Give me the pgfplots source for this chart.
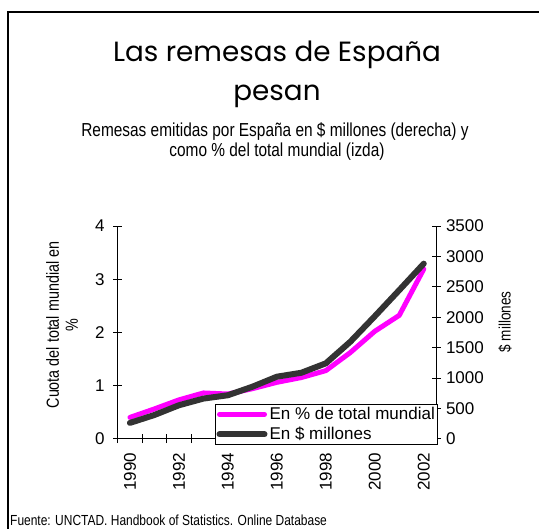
\documentclass[border=0pt]{standalone}
\usepackage{fontspec}
\setmainfont{Liberation Sans}
\newfontfamily\narrowfont[FakeStretch=0.82]{Liberation Sans}
\newfontfamily\titlefont{Poppins}
\usepackage{pgfplots}
\usepackage{pgfplotstable}
\pgfplotsset{compat=1.18}
\definecolor{PinkLine}{RGB}{255,0,255}
\definecolor{DarkLine}{RGB}{51,51,51}

% idx 0 = 1990 ... 12 = 2002
\pgfplotstableread{
idx year share usd
0  1990 0.40 260
1  1991 0.56 390
2  1992 0.73 550
3  1993 0.86 660
4  1994 0.84 715
5  1995 0.94 855
6  1996 1.06 1020
7  1997 1.15 1085
8  1998 1.28 1240
9  1999 1.62 1595
10 2000 2.02 2015
11 2001 2.32 2445
12 2002 3.19 2880
}\remesas

\pgfplotsset{
  basechart/.style={
    scale only axis,
    width=318.3pt, height=212.7pt,
    at={(117.7pt,90.3pt)}, anchor=south west,
    xmin=-0.5, xmax=12.5,
    tick align=center,
    major tick length=9pt,
    minor tick length=9pt,
    every tick/.style={black, line width=0.8pt},
    axis line style={black, line width=0.8pt},
    tick label style={font=\fontsize{17}{20}\selectfont},
    /pgf/number format/assume math mode=true,
    /pgf/number format/1000 sep={},
  },
}

\begin{document}
\begin{tikzpicture}[x=1pt,y=1pt]
\useasboundingbox (0,0) rectangle (539,529);
\draw[line width=1.2pt] (8,0) -- (8,517) -- (539,517);

% titles
\node[anchor=base, inner sep=0pt, font=\titlefont\fontsize{27.8}{30}\selectfont] at (277,467) {Las remesas de España};
\node[anchor=base, inner sep=0pt, font=\titlefont\fontsize{27.8}{30}\selectfont] at (277,428) {pesan};
\node[anchor=base, inner sep=0pt, font=\narrowfont\fontsize{18.8}{20}\selectfont] at (275,392.3) {Remesas emitidas por España en \$ millones (derecha) y};
\node[anchor=base, inner sep=0pt, font=\narrowfont\fontsize{18.8}{20}\selectfont] at (277,372.3) {como \% del total mundial (izda)};

% axis labels
\node[rotate=90, align=center, inner sep=0pt, font=\narrowfont\fontsize{17.5}{19}\selectfont] at (62,204) {Cuota del total mundial en\\\%};
\node[rotate=90, inner sep=0pt, font=\narrowfont\fontsize{16.5}{19}\selectfont] at (505,207) {\$ millones};

% source
\node[anchor=base west, inner sep=0pt, font=\narrowfont\fontsize{14.6}{18}\selectfont] at (10,3.5) {Fuente: UNCTAD. Handbook of Statistics. Online Database};

\begin{axis}[
  basechart,
  axis x line*=bottom, axis y line*=left,
  ymin=0, ymax=4,
  ytick={0,1,2,3,4},
  yticklabel style={xshift=-5pt},
  xtick={0,2,...,12},
  xticklabels={1990,1992,1994,1996,1998,2000,2002},
  major x tick style={draw=none},
  minor xtick={-0.5,0.5,...,12.5},
  xticklabel style={rotate=90, anchor=east, xshift=-6pt},
]
\addplot[PinkLine, line width=5pt, line cap=round, line join=round] table[x=idx, y=share] {\remesas};
\end{axis}

\begin{axis}[
  basechart,
  axis x line=none, axis y line*=right,
  ymin=0, ymax=3500,
  ytick={0,500,...,3500},
  yticklabel style={xshift=2pt},
  legend style={at={(0.306,0.163)}, anchor=north west, draw=black, line width=0.8pt,
    fill=white, font=\fontsize{17}{20}\selectfont, inner sep=1pt,
    row sep=2pt, cells={anchor=west}},
  legend image code/.code={\draw[#1] (0pt,0pt) -- (45pt,0pt);},
]
\addlegendimage{PinkLine, line width=5pt, line cap=round}
\addlegendentry{En \% de total mundial}
\addplot[DarkLine, line width=6pt, line cap=round, line join=round] table[x=idx, y=usd] {\remesas};
\addlegendentry{En \$ millones}
\end{axis}
\end{tikzpicture}
\end{document}
